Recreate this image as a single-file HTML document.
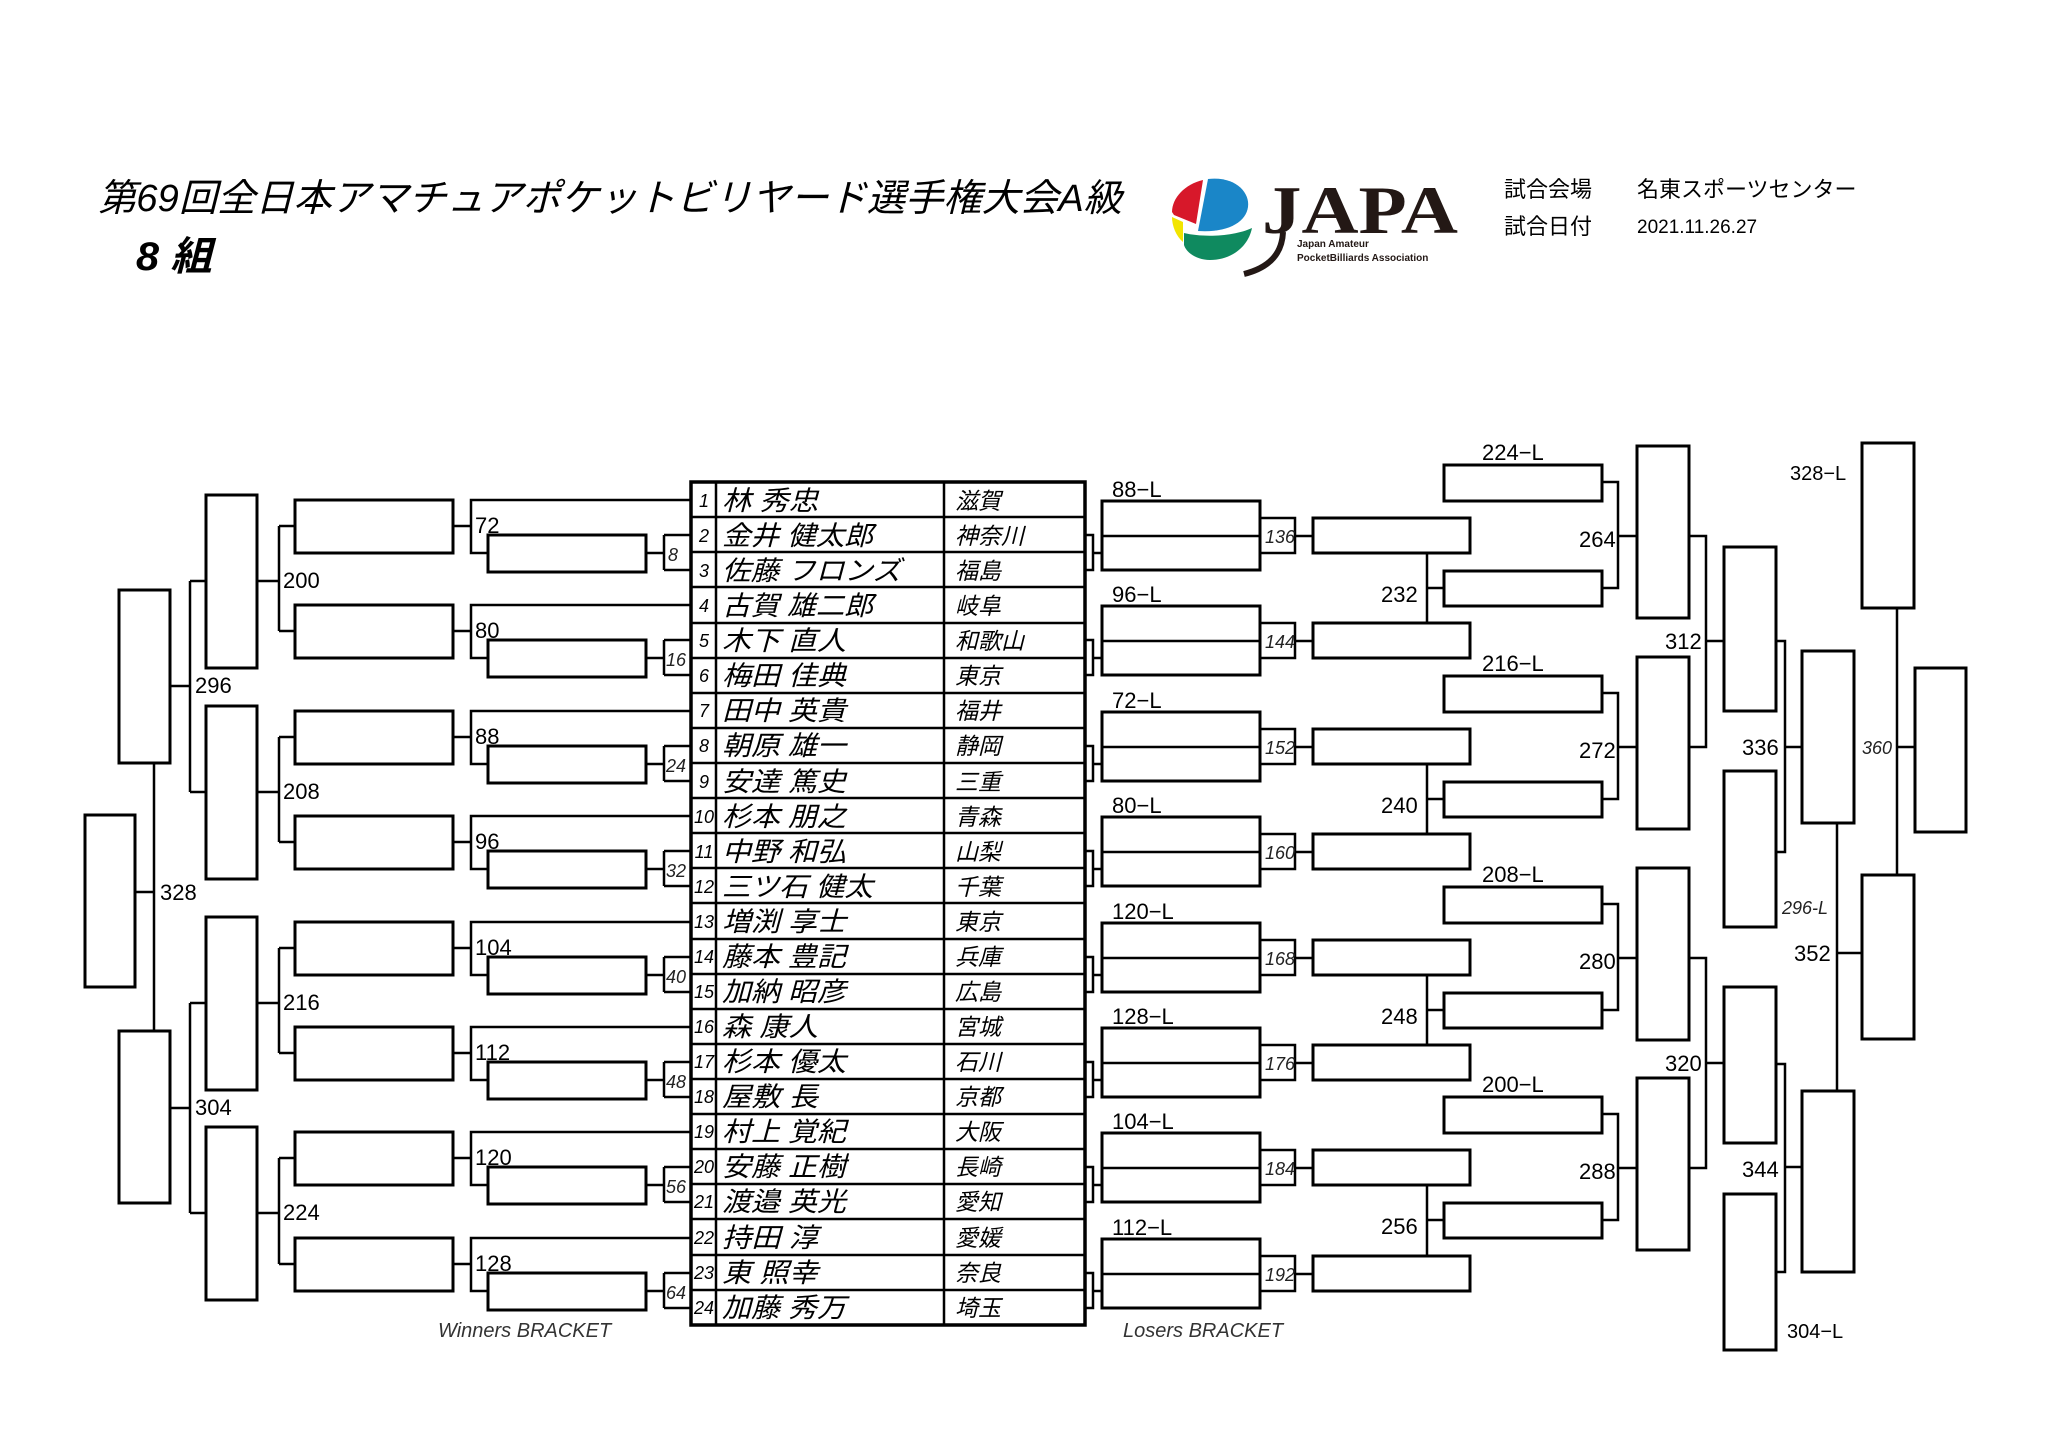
<!DOCTYPE html>
<html><head><meta charset="utf-8"><style>
html,body{margin:0;padding:0;background:#fff;}
svg{display:block}
.b{fill:none;stroke:#000;stroke-width:3}
.l{fill:none;stroke:#000;stroke-width:2.5}
.n{font-family:"Liberation Sans",sans-serif;font-size:22px;fill:#000}
.i{font-family:"Liberation Sans",sans-serif;font-size:18px;font-style:italic;fill:#222}
.nm{font-family:"Liberation Sans","Noto Sans CJK JP",sans-serif;font-size:27px;font-style:italic;fill:#000}
.pf{font-family:"Liberation Sans","Noto Sans CJK JP",sans-serif;font-size:23px;font-style:italic;fill:#000}
.no{font-family:"Liberation Sans",sans-serif;font-size:18px;font-style:italic;fill:#000}
.jp{font-family:"Liberation Sans","Noto Sans CJK JP",sans-serif;fill:#000}
</style></head><body>
<svg width="2048" height="1449" viewBox="0 0 2048 1449" xmlns="http://www.w3.org/2000/svg">
<rect width="2048" height="1449" fill="#fff"/>
<!-- Header -->
<text class="jp" x="98" y="211" font-size="38" font-style="italic" textLength="1024" lengthAdjust="spacingAndGlyphs">第69回全日本アマチュアポケットビリヤード選手権大会A級</text>
<text class="jp" x="136" y="270" font-size="40" font-style="italic" font-weight="bold" textLength="76" lengthAdjust="spacingAndGlyphs">8 組</text>
<!-- logo -->
<path d="M1203,180 C1185,184 1172,198 1172,212 L1174,215 L1196,224 Z" fill="#d7182a"/>
<path d="M1208,179 C1235,176 1250,192 1248,207 C1246,222 1228,233 1198,231 Z" fill="#1a86c8"/>
<path d="M1172,217 L1183,222 L1183,242 C1176,236 1172,226 1172,217 Z" fill="#f2e500"/>
<path d="M1184,233 C1205,238 1235,236 1252,228 C1248,248 1230,260 1210,260 C1196,260 1186,252 1184,245 Z" fill="#0f8a5f"/>
<text x="1262" y="233" font-family="Liberation Serif,serif" font-weight="bold" font-size="68" textLength="196" lengthAdjust="spacingAndGlyphs" fill="#231815">JAPA</text>
<path d="M1283,232 C1282,255 1268,268 1244,274" stroke="#231815" stroke-width="6" fill="none"/>
<text x="1297" y="247" font-family="Liberation Sans,sans-serif" font-weight="bold" font-size="10" fill="#231815">Japan Amateur</text>
<text x="1297" y="261" font-family="Liberation Sans,sans-serif" font-weight="bold" font-size="10" fill="#231815">PocketBilliards Association</text>
<text class="jp" x="1504" y="197" font-size="22">試合会場</text>
<text class="jp" x="1637" y="197" font-size="22">名東スポーツセンター</text>
<text class="jp" x="1504" y="234" font-size="22">試合日付</text>
<text x="1637" y="233" font-family="Liberation Sans,sans-serif" font-size="19" fill="#000">2021.11.26.27</text>

<!-- Table -->
<rect x="691" y="482" width="394" height="843" fill="none" stroke="#000" stroke-width="3.5"/>
<path class="l" d="M716,482V1325M944,482V1325"/>
<path class="l" d="M691,517H1085M691,552H1085M691,587H1085M691,623H1085M691,658H1085M691,693H1085M691,728H1085M691,763H1085M691,798H1085M691,833H1085M691,868H1085M691,903H1085M691,939H1085M691,974H1085M691,1009H1085M691,1044H1085M691,1079H1085M691,1114H1085M691,1149H1085M691,1184H1085M691,1219H1085M691,1255H1085M691,1290H1085" stroke-width="3"/>
<g class="no" text-anchor="middle">
<text x="704" y="507">1</text><text x="704" y="542">2</text><text x="704" y="577">3</text><text x="704" y="612">4</text><text x="704" y="647">5</text><text x="704" y="682">6</text><text x="704" y="717">7</text><text x="704" y="752">8</text><text x="704" y="788">9</text><text x="704" y="823">10</text><text x="704" y="858">11</text><text x="704" y="893">12</text><text x="704" y="928">13</text><text x="704" y="963">14</text><text x="704" y="998">15</text><text x="704" y="1033">16</text><text x="704" y="1068">17</text><text x="704" y="1103">18</text><text x="704" y="1138">19</text><text x="704" y="1173">20</text><text x="704" y="1208">21</text><text x="704" y="1244">22</text><text x="704" y="1279">23</text><text x="704" y="1314">24</text>
</g>
<g class="nm">
<text x="722" y="510" textLength="96" lengthAdjust="spacingAndGlyphs">林 秀忠</text>
<text x="722" y="545" textLength="151" lengthAdjust="spacingAndGlyphs">金井 健太郎</text>
<text x="722" y="580" textLength="179" lengthAdjust="spacingAndGlyphs">佐藤 フロンズ</text>
<text x="722" y="615" textLength="151" lengthAdjust="spacingAndGlyphs">古賀 雄二郎</text>
<text x="722" y="650" textLength="124" lengthAdjust="spacingAndGlyphs">木下 直人</text>
<text x="722" y="685" textLength="124" lengthAdjust="spacingAndGlyphs">梅田 佳典</text>
<text x="722" y="720" textLength="124" lengthAdjust="spacingAndGlyphs">田中 英貴</text>
<text x="722" y="755" textLength="124" lengthAdjust="spacingAndGlyphs">朝原 雄一</text>
<text x="722" y="791" textLength="124" lengthAdjust="spacingAndGlyphs">安達 篤史</text>
<text x="722" y="826" textLength="124" lengthAdjust="spacingAndGlyphs">杉本 朋之</text>
<text x="722" y="861" textLength="124" lengthAdjust="spacingAndGlyphs">中野 和弘</text>
<text x="722" y="896" textLength="151" lengthAdjust="spacingAndGlyphs">三ツ石 健太</text>
<text x="722" y="931" textLength="124" lengthAdjust="spacingAndGlyphs">増渕 享士</text>
<text x="722" y="966" textLength="124" lengthAdjust="spacingAndGlyphs">藤本 豊記</text>
<text x="722" y="1001" textLength="124" lengthAdjust="spacingAndGlyphs">加納 昭彦</text>
<text x="722" y="1036" textLength="96" lengthAdjust="spacingAndGlyphs">森 康人</text>
<text x="722" y="1071" textLength="124" lengthAdjust="spacingAndGlyphs">杉本 優太</text>
<text x="722" y="1106" textLength="96" lengthAdjust="spacingAndGlyphs">屋敷 長</text>
<text x="722" y="1141" textLength="124" lengthAdjust="spacingAndGlyphs">村上 覚紀</text>
<text x="722" y="1176" textLength="124" lengthAdjust="spacingAndGlyphs">安藤 正樹</text>
<text x="722" y="1211" textLength="124" lengthAdjust="spacingAndGlyphs">渡邉 英光</text>
<text x="722" y="1247" textLength="96" lengthAdjust="spacingAndGlyphs">持田 淳</text>
<text x="722" y="1282" textLength="96" lengthAdjust="spacingAndGlyphs">東 照幸</text>
<text x="722" y="1317" textLength="124" lengthAdjust="spacingAndGlyphs">加藤 秀万</text>
</g>
<g class="pf">
<text x="955" y="509">滋賀</text><text x="955" y="544">神奈川</text><text x="955" y="579">福島</text><text x="955" y="614">岐阜</text><text x="955" y="649">和歌山</text><text x="955" y="684">東京</text><text x="955" y="719">福井</text><text x="955" y="754">静岡</text><text x="955" y="790">三重</text><text x="955" y="825">青森</text><text x="955" y="860">山梨</text><text x="955" y="895">千葉</text><text x="955" y="930">東京</text><text x="955" y="965">兵庫</text><text x="955" y="1000">広島</text><text x="955" y="1035">宮城</text><text x="955" y="1070">石川</text><text x="955" y="1105">京都</text><text x="955" y="1140">大阪</text><text x="955" y="1175">長崎</text><text x="955" y="1210">愛知</text><text x="955" y="1246">愛媛</text><text x="955" y="1281">奈良</text><text x="955" y="1316">埼玉</text>
</g>

<!-- Winners: groups -->
<g>
<rect class="b" x="488" y="535" width="158" height="37"/><rect class="b" x="295" y="500" width="158" height="53"/>
<path class="l" d="M646,553H664M664,535V570M664,535H691M664,570H691M691,500H471V553H488M453,526H471"/>
<rect class="b" x="488" y="640" width="158" height="37"/><rect class="b" x="295" y="605" width="158" height="53"/>
<path class="l" d="M646,658H664M664,640V675M664,640H691M664,675H691M691,605H471V658H488M453,631H471"/>
<rect class="b" x="488" y="746" width="158" height="37"/><rect class="b" x="295" y="711" width="158" height="53"/>
<path class="l" d="M646,764H664M664,746V781M664,746H691M664,781H691M691,711H471V764H488M453,737H471"/>
<rect class="b" x="488" y="851" width="158" height="37"/><rect class="b" x="295" y="816" width="158" height="53"/>
<path class="l" d="M646,869H664M664,851V886M664,851H691M664,886H691M691,816H471V869H488M453,842H471"/>
<rect class="b" x="488" y="957" width="158" height="37"/><rect class="b" x="295" y="922" width="158" height="53"/>
<path class="l" d="M646,975H664M664,957V992M664,957H691M664,992H691M691,922H471V975H488M453,948H471"/>
<rect class="b" x="488" y="1062" width="158" height="37"/><rect class="b" x="295" y="1027" width="158" height="53"/>
<path class="l" d="M646,1080H664M664,1062V1097M664,1062H691M664,1097H691M691,1027H471V1080H488M453,1053H471"/>
<rect class="b" x="488" y="1167" width="158" height="37"/><rect class="b" x="295" y="1132" width="158" height="53"/>
<path class="l" d="M646,1185H664M664,1167V1202M664,1167H691M664,1202H691M691,1132H471V1185H488M453,1158H471"/>
<rect class="b" x="488" y="1273" width="158" height="37"/><rect class="b" x="295" y="1238" width="158" height="53"/>
<path class="l" d="M646,1291H664M664,1273V1308M664,1273H691M664,1308H691M691,1238H471V1291H488M453,1264H471"/>
</g>
<g class="i">
<text x="668" y="561">8</text><text x="666" y="666">16</text><text x="666" y="772">24</text><text x="666" y="877">32</text><text x="666" y="983">40</text><text x="666" y="1088">48</text><text x="666" y="1193">56</text><text x="666" y="1299">64</text>
</g>
<g class="n">
<text x="475" y="533">72</text><text x="475" y="638">80</text><text x="475" y="744">88</text><text x="475" y="849">96</text><text x="475" y="955">104</text><text x="475" y="1060">112</text><text x="475" y="1165">120</text><text x="475" y="1271">128</text>
</g>
<!-- Round 3 -->
<rect class="b" x="206" y="495" width="51" height="173"/>
<rect class="b" x="206" y="706" width="51" height="173"/>
<rect class="b" x="206" y="917" width="51" height="173"/>
<rect class="b" x="206" y="1127" width="51" height="173"/>
<path class="l" d="M257,581H279M279,526V631M279,526H295M279,631H295
M257,792H279M279,737V842M279,737H295M279,842H295
M257,1003H279M279,948V1053M279,948H295M279,1053H295
M257,1213H279M279,1158V1264M279,1158H295M279,1264H295"/>
<g class="n"><text x="283" y="588">200</text><text x="283" y="799">208</text><text x="283" y="1010">216</text><text x="283" y="1220">224</text></g>
<!-- Round 4 / final -->
<rect class="b" x="119" y="590" width="51" height="173"/>
<rect class="b" x="119" y="1031" width="51" height="172"/>
<rect class="b" x="85" y="815" width="50" height="172"/>
<path class="l" d="M170,686H190M190,581V792M190,581H206M190,792H206
M170,1108H190M190,1003V1213M190,1003H206M190,1213H206
M154,763V1031M135,892H154"/>
<g class="n"><text x="195" y="693">296</text><text x="195" y="1115">304</text><text x="160" y="900">328</text></g>
<text x="438" y="1337" font-family="Liberation Sans,sans-serif" font-style="italic" font-size="20" fill="#333">Winners BRACKET</text>

<!-- Losers: groups -->
<g>
<path class="l" d="M1085,535H1093V570H1085M1093,553H1102M1102,536H1260M1260,518H1295V553H1260M1295,536H1313"/>
<rect class="b" x="1102" y="501" width="158" height="69"/><rect class="b" x="1313" y="518" width="157" height="35"/>
<path class="l" d="M1085,640H1093V675H1085M1093,658H1102M1102,641H1260M1260,623H1295V658H1260M1295,641H1313"/>
<rect class="b" x="1102" y="606" width="158" height="69"/><rect class="b" x="1313" y="623" width="157" height="35"/>
<path class="l" d="M1085,746H1093V781H1085M1093,764H1102M1102,747H1260M1260,729H1295V764H1260M1295,747H1313"/>
<rect class="b" x="1102" y="712" width="158" height="69"/><rect class="b" x="1313" y="729" width="157" height="35"/>
<path class="l" d="M1085,851H1093V886H1085M1093,869H1102M1102,852H1260M1260,834H1295V869H1260M1295,852H1313"/>
<rect class="b" x="1102" y="817" width="158" height="69"/><rect class="b" x="1313" y="834" width="157" height="35"/>
<path class="l" d="M1085,957H1093V992H1085M1093,975H1102M1102,958H1260M1260,940H1295V975H1260M1295,958H1313"/>
<rect class="b" x="1102" y="923" width="158" height="69"/><rect class="b" x="1313" y="940" width="157" height="35"/>
<path class="l" d="M1085,1062H1093V1097H1085M1093,1080H1102M1102,1063H1260M1260,1045H1295V1080H1260M1295,1063H1313"/>
<rect class="b" x="1102" y="1028" width="158" height="69"/><rect class="b" x="1313" y="1045" width="157" height="35"/>
<path class="l" d="M1085,1167H1093V1202H1085M1093,1185H1102M1102,1168H1260M1260,1150H1295V1185H1260M1295,1168H1313"/>
<rect class="b" x="1102" y="1133" width="158" height="69"/><rect class="b" x="1313" y="1150" width="157" height="35"/>
<path class="l" d="M1085,1273H1093V1308H1085M1093,1291H1102M1102,1274H1260M1260,1256H1295V1291H1260M1295,1274H1313"/>
<rect class="b" x="1102" y="1239" width="158" height="69"/><rect class="b" x="1313" y="1256" width="157" height="35"/>
</g>
<g class="n" font-size="20">
<text x="1112" y="497">88−L</text><text x="1112" y="602">96−L</text><text x="1112" y="708">72−L</text><text x="1112" y="813">80−L</text><text x="1112" y="919">120−L</text><text x="1112" y="1024">128−L</text><text x="1112" y="1129">104−L</text><text x="1112" y="1235">112−L</text>
</g>
<g class="i">
<text x="1265" y="543">136</text><text x="1265" y="648">144</text><text x="1265" y="754">152</text><text x="1265" y="859">160</text><text x="1265" y="965">168</text><text x="1265" y="1070">176</text><text x="1265" y="1175">184</text><text x="1265" y="1281">192</text>
</g>
<!-- Losers pairs -->
<g>
<rect class="b" x="1444" y="571" width="158" height="35"/><rect class="b" x="1444" y="465" width="158" height="36"/><rect class="b" x="1637" y="446" width="52" height="172"/>
<rect class="b" x="1444" y="782" width="158" height="35"/><rect class="b" x="1444" y="676" width="158" height="36"/><rect class="b" x="1637" y="657" width="52" height="172"/>
<rect class="b" x="1444" y="993" width="158" height="35"/><rect class="b" x="1444" y="887" width="158" height="36"/><rect class="b" x="1637" y="868" width="52" height="172"/>
<rect class="b" x="1444" y="1203" width="158" height="35"/><rect class="b" x="1444" y="1097" width="158" height="36"/><rect class="b" x="1637" y="1078" width="52" height="172"/>
</g>
<path class="l" d="M1427,553V623M1427,588H1444M1602,482H1618V588H1602M1618,536H1637
M1427,764V834M1427,799H1444M1602,693H1618V799H1602M1618,747H1637
M1427,975V1045M1427,1010H1444M1602,904H1618V1010H1602M1618,958H1637
M1427,1185V1256M1427,1220H1444M1602,1114H1618V1220H1602M1618,1168H1637"/>
<g class="n">
<text x="1381" y="602">232</text><text x="1381" y="813">240</text><text x="1381" y="1024">248</text><text x="1381" y="1234">256</text>
<text x="1579" y="547">264</text><text x="1579" y="758">272</text><text x="1579" y="969">280</text><text x="1579" y="1179">288</text>
</g>
<g class="n" font-size="20">
<text x="1482" y="460">224−L</text><text x="1482" y="671">216−L</text><text x="1482" y="882">208−L</text><text x="1482" y="1092">200−L</text>
</g>
<!-- later rounds -->
<rect class="b" x="1724" y="547" width="52" height="164"/>
<rect class="b" x="1724" y="771" width="52" height="156"/>
<rect class="b" x="1724" y="987" width="52" height="156"/>
<rect class="b" x="1724" y="1194" width="52" height="156"/>
<rect class="b" x="1802" y="651" width="52" height="172"/>
<rect class="b" x="1802" y="1091" width="52" height="181"/>
<rect class="b" x="1862" y="443" width="52" height="165"/>
<rect class="b" x="1862" y="875" width="52" height="164"/>
<rect class="b" x="1915" y="668" width="51" height="164"/>
<path class="l" d="M1689,536H1706V747H1689M1706,641H1724
M1689,958H1706V1168H1689M1706,1063H1724
M1776,641H1785V852H1776M1785,747H1802
M1776,1064H1785V1272H1776M1785,1167H1802
M1837,823V1091M1837,953H1862
M1897,608V875M1897,747H1915"/>
<g class="n">
<text x="1665" y="649">312</text><text x="1665" y="1071">320</text>
<text x="1742" y="755">336</text><text x="1742" y="1177">344</text>
<text x="1794" y="961">352</text>
<text x="1790" y="480" font-size="20">328−L</text>
<text x="1787" y="1338" font-size="20">304−L</text>
</g>
<text class="i" x="1782" y="914" font-size="19">296-L</text>
<text class="i" x="1862" y="754" font-size="19">360</text>
<text x="1123" y="1337" font-family="Liberation Sans,sans-serif" font-style="italic" font-size="20" fill="#333">Losers BRACKET</text>
</svg>
</body></html>
